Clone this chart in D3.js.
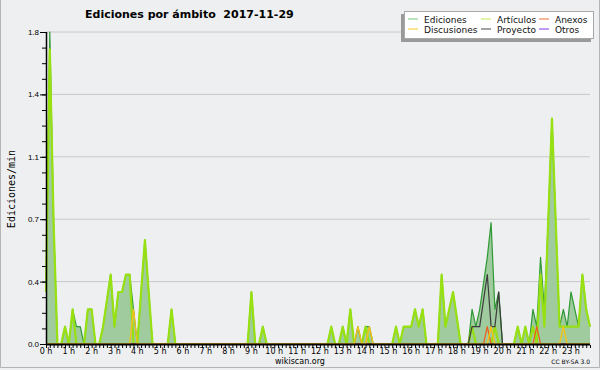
<!DOCTYPE html>
<html>
<head>
<meta charset="utf-8">
<title>Ediciones por ámbito 2017-11-29</title>
<style>
  body { margin: 0; background: #eeeff0; }
  svg { display: block; font-family: 'DejaVu Sans', sans-serif; }
  .axis .domain { display: none; }
  .axis .tick line { stroke: #000; }
  .y .tick text { font-size: 8px; fill: #000; }
  .grid line { stroke: #c8c8c8; }
</style>
</head>
<body>
<svg width="600" height="370"></svg>
<script src="https://d3js.org/d3.v7.min.js"></script>
<script>
// one value every 10 minutes, 00:00 -> 23:50 (edits per minute)
const ediciones = [
  0.3, 1.8, 0.7, 0, 0, 0.1, 0, 0.2, 0.1, 0.1, 0, 0.2,
  0.2, 0, 0, 0.1, 0.25, 0.4, 0.1, 0.3, 0.3, 0.4, 0.4, 0.2,
  0, 0.3, 0.6, 0.3, 0, 0, 0, 0, 0, 0.2, 0, 0,
  0, 0, 0, 0, 0, 0, 0, 0, 0, 0, 0, 0,
  0, 0, 0, 0, 0, 0, 0.3, 0, 0, 0.1, 0, 0,
  0, 0, 0, 0, 0, 0, 0, 0, 0, 0, 0, 0,
  0, 0, 0, 0.1, 0, 0, 0.1, 0, 0.2, 0, 0.1, 0,
  0.1, 0.1, 0, 0, 0, 0, 0, 0, 0.1, 0, 0.1, 0.1,
  0.1, 0.2, 0.1, 0.2, 0, 0, 0, 0, 0.4, 0.1, 0.2, 0.3,
  0.15, 0, 0, 0, 0.2, 0.1, 0.2, 0.35, 0.5, 0.7, 0.2, 0.3,
  0, 0, 0, 0, 0.1, 0, 0.1, 0, 0.2, 0.1, 0.5, 0.2,
  0.7, 1.3, 0.7, 0.1, 0.2, 0.1, 0.3, 0.2, 0.1, 0.4, 0.2, 0.1
];
const articulos = [
  0.3, 1.7, 0.7, 0, 0, 0.1, 0, 0.2, 0, 0, 0, 0.2,
  0.2, 0, 0, 0.1, 0.25, 0.4, 0.1, 0.3, 0.3, 0.4, 0.4, 0,
  0, 0.3, 0.6, 0.3, 0, 0, 0, 0, 0, 0.2, 0, 0,
  0, 0, 0, 0, 0, 0, 0, 0, 0, 0, 0, 0,
  0, 0, 0, 0, 0, 0, 0.3, 0, 0, 0.1, 0, 0,
  0, 0, 0, 0, 0, 0, 0, 0, 0, 0, 0, 0,
  0, 0, 0, 0.1, 0, 0, 0.1, 0, 0.2, 0, 0, 0,
  0.1, 0, 0, 0, 0, 0, 0, 0, 0.1, 0, 0.1, 0.1,
  0.1, 0.2, 0.1, 0.2, 0, 0, 0, 0, 0.4, 0.1, 0.2, 0.3,
  0.15, 0, 0, 0, 0.1, 0, 0, 0, 0, 0, 0.1, 0,
  0, 0, 0, 0, 0.1, 0, 0.1, 0, 0.1, 0, 0.4, 0.1,
  0.7, 1.3, 0.7, 0.1, 0.1, 0.1, 0.1, 0.1, 0.1, 0.4, 0.2, 0.1
];
const discusiones = [
  0, 0, 0, 0, 0, 0, 0, 0, 0, 0, 0, 0,
  0, 0, 0, 0, 0, 0, 0, 0, 0, 0, 0, 0.2,
  0, 0, 0, 0, 0, 0, 0, 0, 0, 0, 0, 0,
  0, 0, 0, 0, 0, 0, 0, 0, 0, 0, 0, 0,
  0, 0, 0, 0, 0, 0, 0, 0, 0, 0, 0, 0,
  0, 0, 0, 0, 0, 0, 0, 0, 0, 0, 0, 0,
  0, 0, 0, 0, 0, 0, 0, 0, 0, 0, 0.1, 0,
  0, 0.1, 0, 0, 0, 0, 0, 0, 0, 0, 0, 0,
  0, 0, 0, 0, 0, 0, 0, 0, 0, 0, 0, 0,
  0, 0, 0, 0, 0, 0, 0, 0, 0, 0.1, 0, 0,
  0, 0, 0, 0, 0, 0, 0, 0, 0, 0, 0, 0,
  0, 0, 0, 0, 0.1, 0, 0, 0, 0, 0, 0, 0
];
const anexos = [
  0, 0, 0, 0, 0, 0, 0, 0, 0, 0, 0, 0,
  0, 0, 0, 0, 0, 0, 0, 0, 0, 0, 0, 0,
  0, 0, 0, 0, 0, 0, 0, 0, 0, 0, 0, 0,
  0, 0, 0, 0, 0, 0, 0, 0, 0, 0, 0, 0,
  0, 0, 0, 0, 0, 0, 0, 0, 0, 0, 0, 0,
  0, 0, 0, 0, 0, 0, 0, 0, 0, 0, 0, 0,
  0, 0, 0, 0, 0, 0, 0, 0, 0, 0, 0, 0,
  0, 0, 0, 0, 0, 0, 0, 0, 0, 0, 0, 0,
  0, 0, 0, 0, 0, 0, 0, 0, 0, 0, 0, 0,
  0, 0, 0, 0, 0, 0, 0, 0, 0.1, 0, 0, 0,
  0, 0, 0, 0, 0, 0, 0, 0, 0, 0.1, 0, 0,
  0, 0, 0, 0, 0, 0, 0, 0, 0, 0, 0, 0
];
const proyecto = [
  0, 0, 0, 0, 0, 0, 0, 0, 0, 0, 0, 0,
  0, 0, 0, 0, 0, 0, 0, 0, 0, 0, 0, 0,
  0, 0, 0, 0, 0, 0, 0, 0, 0, 0, 0, 0,
  0, 0, 0, 0, 0, 0, 0, 0, 0, 0, 0, 0,
  0, 0, 0, 0, 0, 0, 0, 0, 0, 0, 0, 0,
  0, 0, 0, 0, 0, 0, 0, 0, 0, 0, 0, 0,
  0, 0, 0, 0, 0, 0, 0, 0, 0, 0, 0, 0,
  0, 0, 0, 0, 0, 0, 0, 0, 0, 0, 0, 0,
  0, 0, 0, 0, 0, 0, 0, 0, 0, 0, 0, 0,
  0, 0, 0, 0, 0.1, 0.1, 0.1, 0.25, 0.4, 0.1, 0.1, 0.3,
  0, 0, 0, 0, 0, 0, 0, 0, 0, 0, 0, 0,
  0, 0, 0, 0, 0, 0, 0, 0, 0, 0, 0, 0
];
const otros = [
  0, 0, 0, 0, 0, 0, 0, 0, 0, 0, 0, 0,
  0, 0, 0, 0, 0, 0, 0, 0, 0, 0, 0, 0,
  0, 0, 0, 0, 0, 0, 0, 0, 0, 0, 0, 0,
  0, 0, 0, 0, 0, 0, 0, 0, 0, 0, 0, 0,
  0, 0, 0, 0, 0, 0, 0, 0, 0, 0, 0, 0,
  0, 0, 0, 0, 0, 0, 0, 0, 0, 0, 0, 0,
  0, 0, 0, 0, 0, 0, 0, 0, 0, 0, 0, 0,
  0, 0, 0, 0, 0, 0, 0, 0, 0, 0, 0, 0,
  0, 0, 0, 0, 0, 0, 0, 0, 0, 0, 0, 0,
  0, 0, 0, 0, 0, 0, 0, 0, 0, 0, 0, 0,
  0, 0, 0, 0, 0, 0, 0, 0, 0, 0, 0, 0,
  0, 0, 0, 0, 0, 0, 0, 0, 0, 0, 0, 0
];

const hourLabels = ["0 h", "1 h", "2 h", "3 h", "4 h", "5 h", "6 h", "7 h", "8 h", "9 h", "10 h", "11 h",
  "12 h", "13 h", "14 h", "15 h", "16 h", "17 h", "18 h", "19 h", "20 h", "21 h", "22 h", "23 h"];
const yTicks = [0, 0.36, 0.72, 1.08, 1.44, 1.8];

const legendNames = ["Ediciones", "Artículos", "Anexos", "Discusiones", "Proyecto", "Otros"];
const legendColors = ["#8fd08f", "#ccee66", "#f0855a", "#f5d24a", "#666666", "#9a55ee"];

let svg = d3.select("svg");

// outer frame
svg.append("path")
  .attr("d", "M0.5,0 V367.5 H599.5 V0")
  .attr("fill", "none").attr("stroke", "#b4b4b4");

let x = d3.scaleLinear().domain([0, 143]).range([46, 590]);
let y = d3.scaleLinear().domain([0, 1.8]).range([344, 32]);

// grid
svg.append("g").attr("class", "grid")
  .selectAll("line").data(yTicks.slice(1)).join("line")
  .attr("x1", 46).attr("x2", 590)
  .attr("y1", d => y(d)).attr("y2", d => y(d));

let idx = ediciones.map((d, i) => i);

let area = d3.area().x(i => x(i)).y0(y(0)).y1(i => y(ediciones[i]));
svg.append("path").datum(idx).attr("d", area).attr("fill", "#9fcb9f");

function drawLine(values, color, w) {
  svg.append("path").datum(idx)
    .attr("d", d3.line().x(i => x(i)).y(i => y(values[i])))
    .attr("fill", "none").attr("stroke", color)
    .attr("stroke-width", w).attr("stroke-linejoin", "round");
}
drawLine(ediciones, "#2f9a35", 1.2);
drawLine(articulos, "#97e012", 2.2);
drawLine(otros, "#9a55ee", 1.2);
drawLine(proyecto, "#3c3c3c", 1.2);
drawLine(anexos, "#ef5a1e", 1.2);
drawLine(discusiones, "#f2c21a", 1.4);

// y axis
svg.append("g").attr("class", "y axis")
  .attr("transform", "translate(46,0)")
  .call(d3.axisLeft(y).tickValues(d3.range(0, 1.81, 0.09)).tickSize(4).tickFormat(""));
svg.append("g").attr("class", "y axis")
  .attr("transform", "translate(46,0)")
  .call(d3.axisLeft(y).tickValues(yTicks).tickSize(6).tickPadding(1).tickFormat(d3.format(".1f")));
svg.append("line").attr("x1", 46.5).attr("x2", 46.5).attr("y1", 32).attr("y2", 345)
  .attr("stroke", "#000").attr("stroke-width", 1.5);

// x axis
svg.append("g").attr("class", "x axis")
  .attr("transform", "translate(0,345)")
  .call(d3.axisBottom(x).tickValues(idx).tickSize(3).tickFormat(""));
svg.append("line").attr("x1", 46).attr("x2", 590).attr("y1", 344.5).attr("y2", 344.5)
  .attr("stroke", "#000").attr("stroke-width", 2);
svg.append("g").selectAll("text").data(hourLabels).join("text")
  .attr("x", (d, i) => x(i * 6)).attr("y", 354)
  .attr("text-anchor", "middle").attr("font-size", 8)
  .text(d => d);

// texts
svg.append("text").attr("x", 85).attr("y", 18)
  .attr("font-size", 11).attr("font-weight", "bold")
  .attr("xml:space", "preserve")
  .text("Ediciones por ámbito  2017-11-29");

svg.append("text")
  .attr("transform", "translate(15,189) rotate(-90)")
  .attr("text-anchor", "middle")
  .attr("font-family", "'DejaVu Sans Mono', monospace").attr("font-size", 10)
  .text("Ediciones/min");

svg.append("text").attr("x", 300).attr("y", 364)
  .attr("text-anchor", "middle").attr("font-size", 8).text("wikiscan.org");
svg.append("text").attr("x", 590).attr("y", 364)
  .attr("text-anchor", "end").attr("font-size", 6).text("CC BY-SA 3.0");

// legend
svg.append("rect").attr("x", 401).attr("y", 14).attr("width", 190).attr("height", 28)
  .attr("fill", "#9a9a9a");
svg.append("rect").attr("x", 404.5).attr("y", 11.5).attr("width", 189).attr("height", 27)
  .attr("fill", "#fff").attr("stroke", "#a8a8a8");

let colX = [408, 481, 539];
let rowY = [19, 29];
let leg = svg.append("g").selectAll("g").data(legendNames).join("g")
  .attr("transform", (d, i) => `translate(${colX[i % 3]},${rowY[Math.floor(i / 3)]})`);
leg.append("line").attr("x1", 0).attr("x2", 10)
  .attr("stroke", (d, i) => legendColors[i]).attr("stroke-width", 1.2);
leg.append("text").attr("x", 16).attr("y", 3.5)
  .attr("font-size", 9).attr("fill", "#111").text(d => d);
</script>
</body>
</html>
